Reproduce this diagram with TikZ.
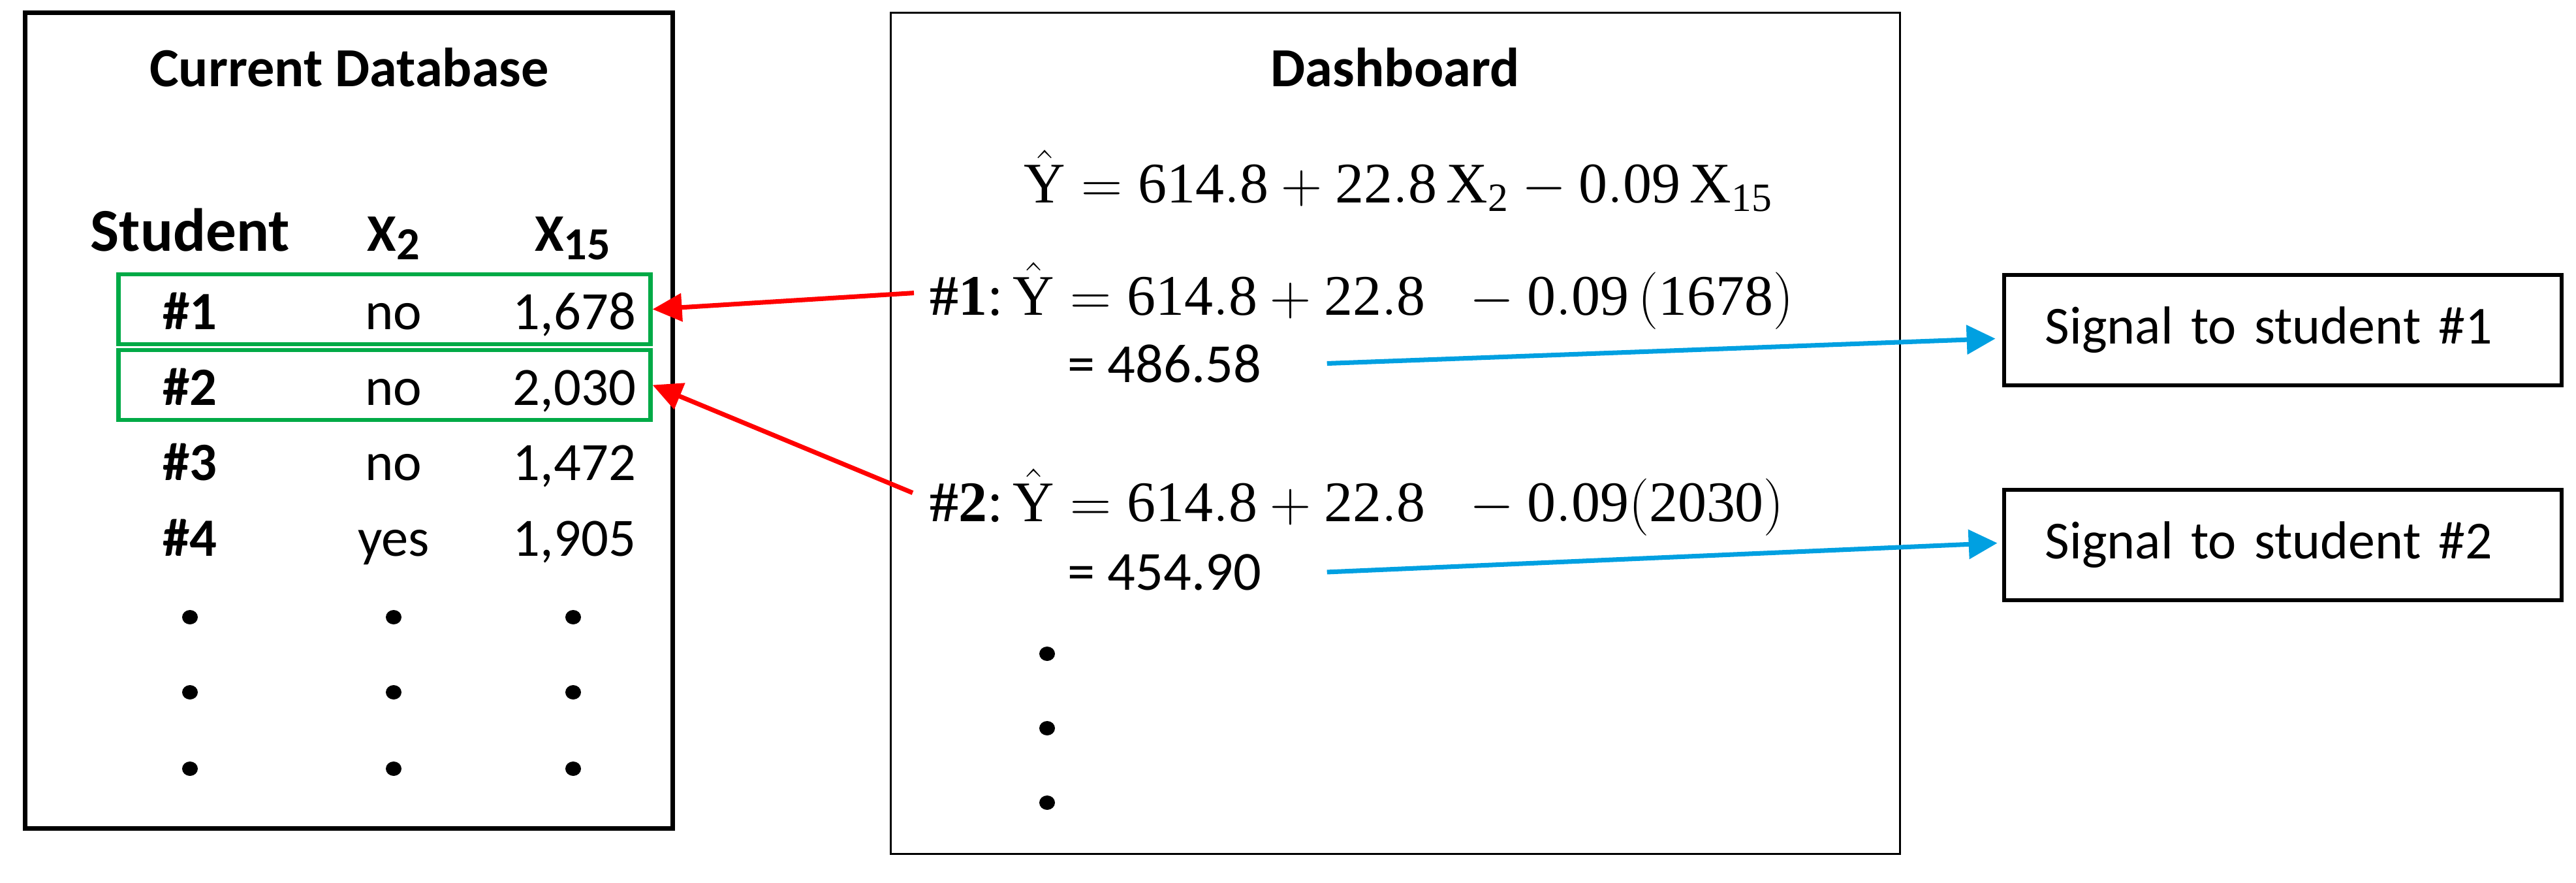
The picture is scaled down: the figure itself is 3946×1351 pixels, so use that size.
\documentclass[tikz,border=0pt]{standalone}
\usepackage{fontspec}
\newfontfamily\calib{Carlito}
\newfontfamily\tnr{Liberation Serif}
\setmathrm{Liberation Serif}
\usetikzlibrary{arrows.meta,calc}
\definecolor{dbgreen}{RGB}{0,170,70}
\definecolor{sigblue}{RGB}{0,160,225}
\definecolor{arrred}{RGB}{255,0,0}
\newcommand{\fsTitle}{\calib\bfseries\fontsize{24pt}{28pt}\selectfont}
\newcommand{\fsHead}{\calib\bfseries\fontsize{26.5pt}{31pt}\selectfont}
\newcommand{\fsHeadX}{\calib\bfseries\fontsize{23pt}{28pt}\selectfont}
\newcommand{\fsRow}{\calib\fontsize{23.5pt}{28pt}\selectfont}
\newcommand{\fsSig}{\calib\fontsize{23.3pt}{28pt}\selectfont}
\newcommand{\fsVal}{\calib\fontsize{24pt}{29pt}\selectfont}
\newcommand{\fsMath}{\fontsize{25pt}{30pt}\selectfont}
\newcommand{\subx}[1]{\raisebox{-3.7pt}{\fontsize{20pt}{24pt}\selectfont #1}}
\newcommand{\stnum}[1]{{\tnr\bfseries\##1}{\tnr:}}
\newcommand{\mr}[1]{\mathrm{#1}}
\begin{document}
\begin{tikzpicture}[x=0.01cm,y=-0.01cm,
  lbl/.style={inner sep=0pt, anchor=base},
  lblw/.style={inner sep=0pt, anchor=base west},
  bigbox/.style={draw, inner sep=0pt},
  gbox/.style={draw=dbgreen, line width=1.9pt, minimum width=8.14cm, minimum height=1.07cm, inner sep=0pt},
  sigbox/.style={draw, line width=1.8pt, minimum height=1.69cm, text width=7.28cm, inner xsep=0.63cm, align=left, font=\fsSig},
  redarr/.style={draw=arrred, line width=2pt, -{Triangle[length=12.8pt,width=12pt]}},
  bluearr/.style={draw=sigblue, line width=2pt, -{Triangle[length=12.5pt,width=12.5pt]}},
]
\useasboundingbox (0,0) rectangle (3946,1351);

% frames
\node[bigbox, line width=2pt, minimum width=9.91cm, minimum height=12.48cm] (dbbox) at (534.5,644) {};
\node[bigbox, line width=0.9pt, minimum width=15.45cm, minimum height=12.87cm] (dash) at (2137.5,663.5) {};

% titles
\node[lbl, font=\fsTitle] (t1) at (535,132) {Current Database};
\node[lbl, font=\fsTitle] (t2) at (2137,132) {Dashboard};

% table header
\node[lbl, font=\fsHead] (hs) at (291,384) {Student};
\node[lbl, font=\fsHeadX] (hx2) at (603,384) {X\subx{2}};
\node[lbl, font=\fsHeadX] (hx15) at (877,384) {X\subx{15}};

% green highlight boxes
\node[gbox] (g1) at (589,473.5) {};
\node[gbox] (g2) at (589,589.5) {};

% table rows
\node[lbl, font=\fsRow] (r1a) at (291,504) {\bfseries\#1};
\node[lbl, font=\fsRow] (r1b) at (603,504) {no};
\node[lbl, font=\fsRow] (r1c) at (880,504) {1,678};
\node[lbl, font=\fsRow] (r2a) at (291,620) {\bfseries\#2};
\node[lbl, font=\fsRow] (r2b) at (603,620) {no};
\node[lbl, font=\fsRow] (r2c) at (880,620) {2,030};
\node[lbl, font=\fsRow] (r3a) at (291,735) {\bfseries\#3};
\node[lbl, font=\fsRow] (r3b) at (603,735) {no};
\node[lbl, font=\fsRow] (r3c) at (880,735) {1,472};
\node[lbl, font=\fsRow] (r4a) at (291,851) {\bfseries\#4};
\node[lbl, font=\fsRow] (r4b) at (603,851) {yes};
\node[lbl, font=\fsRow] (r4c) at (880,851) {1,905};

% table dots
\foreach \yy in {945,1060,1177}{
  \foreach \xx in {291,603,878}{
    \fill (\xx,\yy) ellipse[x radius=0.12cm, y radius=0.11cm];
  }
}

% dashboard content
\node[lblw, font=\fsMath] (eq) at (1568,310)
  {$\hat{\mr{Y}} = \mr{614.8} + \mr{22.8}\,\mr{X}_{\mr{2}} - \mr{0.09}\,\mr{X}_{\mr{15}}$};
\node[lblw, font=\fsMath] (e1) at (1424,482)
  {\stnum{1}$\,\hat{\mr{Y}} = \mr{614.8} + \mr{22.8}\;\; - \mr{0.09}\,\mr{(1678)}$};
\node[lblw, font=\fsVal] (v1) at (1635,585) {= 486.58};
\node[lblw, font=\fsMath] (e2) at (1424,798)
  {\stnum{2}$\,\hat{\mr{Y}} = \mr{614.8} + \mr{22.8}\;\; - \mr{0.09(2030)}$};
\node[lblw, font=\fsVal] (v2) at (1635,903) {= 454.90};

\foreach \yy in {1001,1115,1229}{
  \fill (1604,\yy) ellipse[x radius=0.12cm, y radius=0.11cm];
}

% signal boxes
\node[sigbox] (s1) at (3497,505.5) {Signal to student \#1};
\node[sigbox] (s2) at (3497,834.5) {Signal to student \#2};

% arrows
\draw[redarr] ($(e1.west)+(-24,-4)$) -- (g1.east);
\draw[redarr] ($(e2.west)+(-26,-14)$) -- (g2.east);
\draw[bluearr] ($(v1.east)+(100,0)$) -- ($(s1.west)+(-10,13)$);
\draw[bluearr] ($(v2.east)+(100,0)$) -- ($(s2.west)+(-7,-3)$);
\end{tikzpicture}
\end{document}
